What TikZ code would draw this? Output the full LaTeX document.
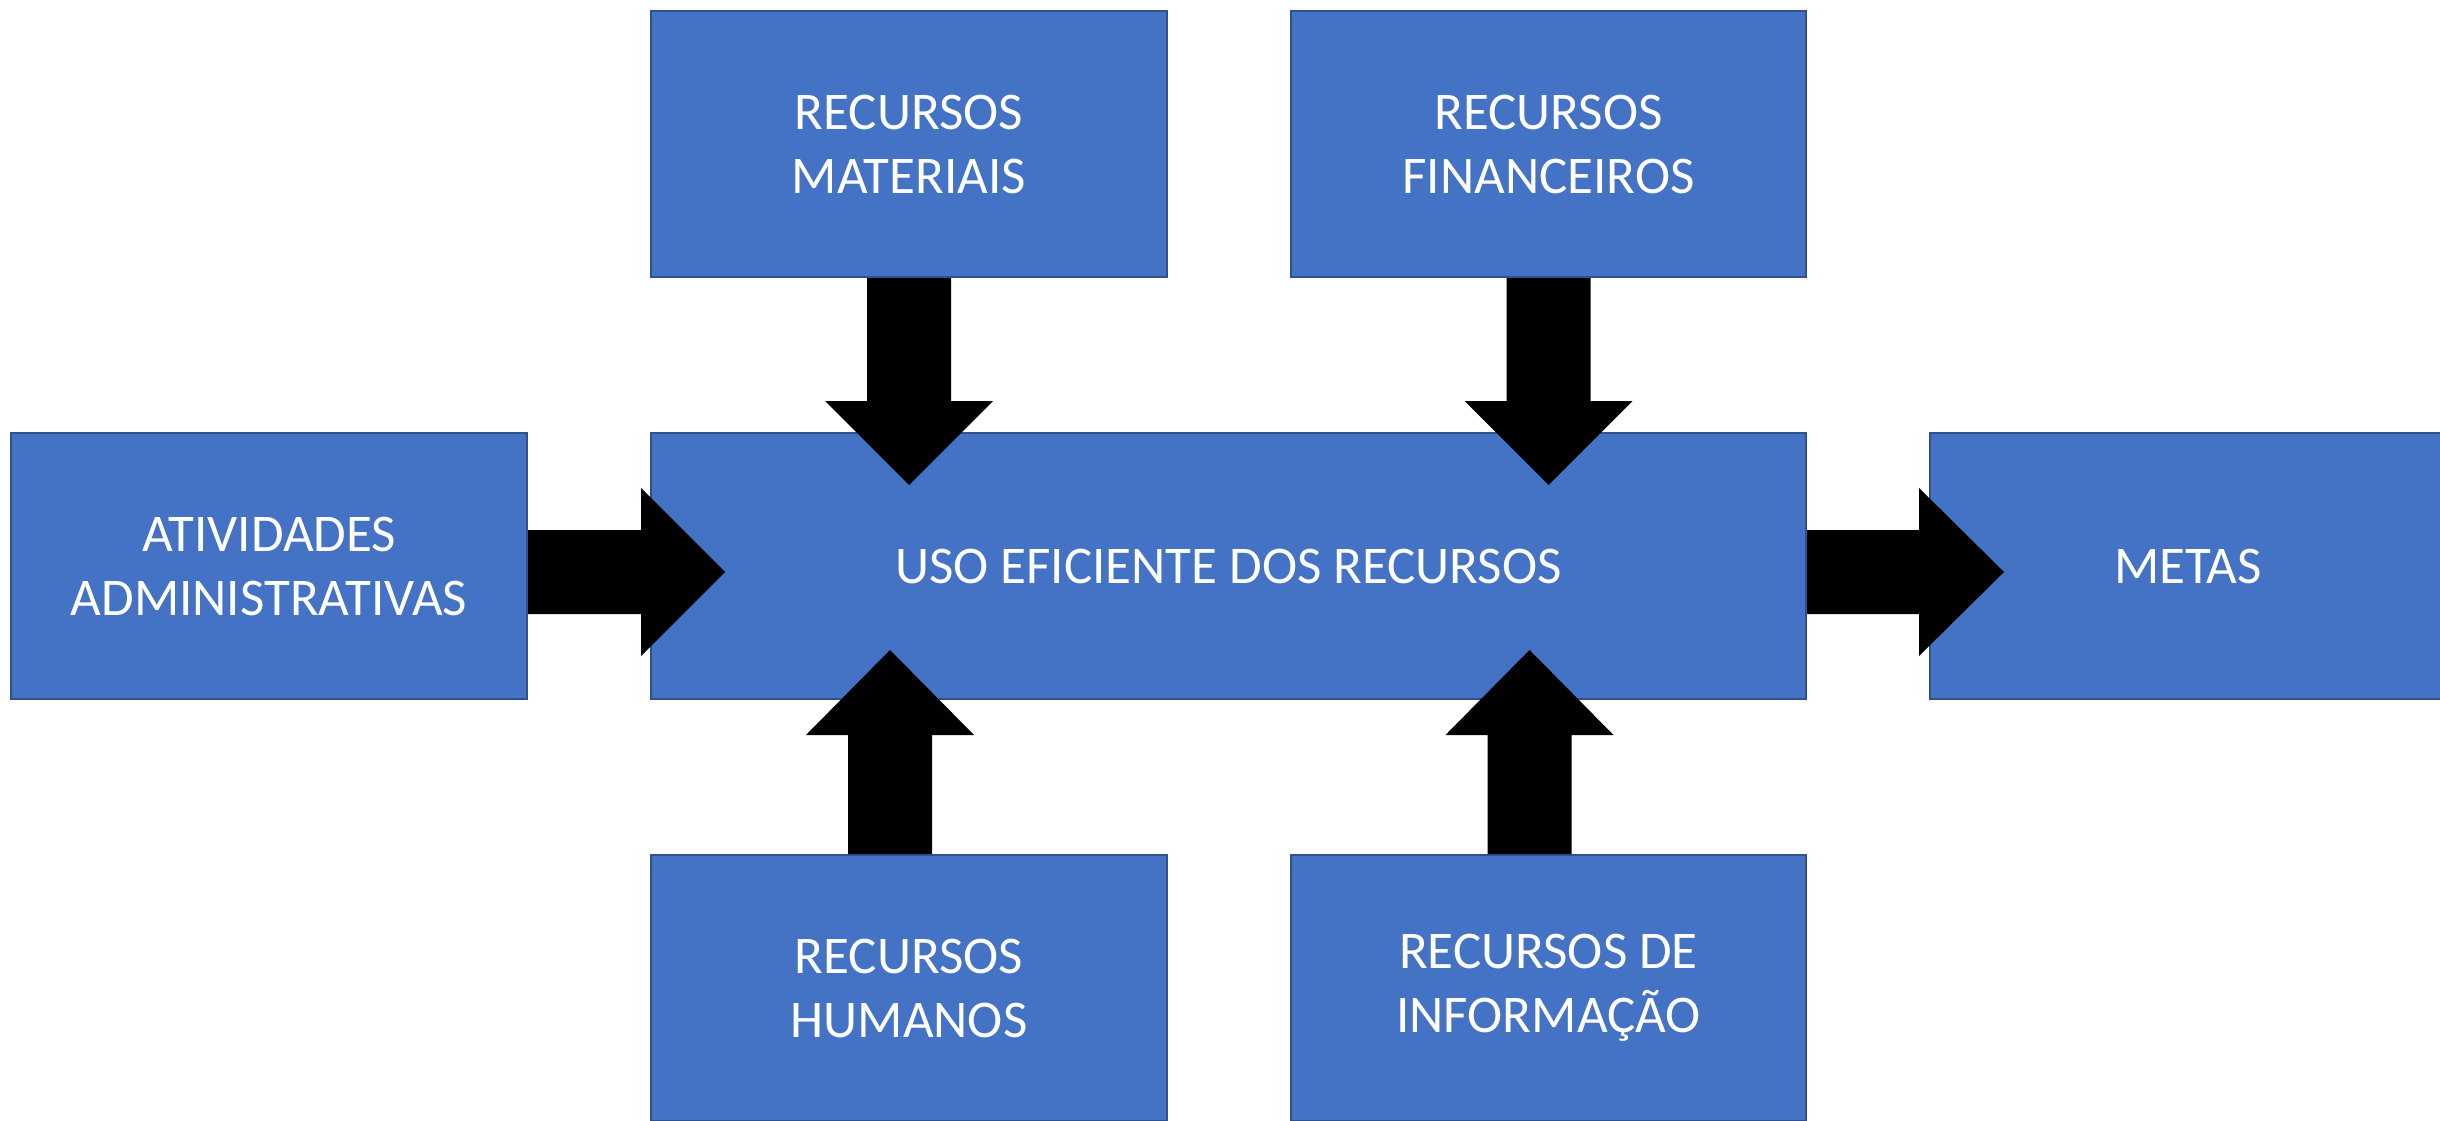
\documentclass[tikz,border=0pt]{standalone}
\usepackage{fontspec}
\setmainfont{Carlito}
\usetikzlibrary{calc}
\definecolor{boxblue}{HTML}{4472C4}
\definecolor{boxedge}{HTML}{2F528F}
\begin{document}
\begin{tikzpicture}[x=1pt,y=-1pt,
  blockbox/.style={rectangle, fill=boxblue, draw=boxedge, line width=2pt,
    text=white, align=center, inner sep=0pt,
    minimum height=266pt, font=\fontsize{53}{64}\selectfont},
  blockarrow/.style={fill=black, draw=none}]
\useasboundingbox (0,0) rectangle (2440,1121);
\begin{scope}
\clip (0,0) rectangle (2440,1121);
\node[blockbox, minimum width=516pt] (mat) at (909,144) {RECURSOS\\MATERIAIS};
\node[blockbox, minimum width=515pt] (fin) at (1548.5,144) {RECURSOS\\FINANCEIROS};
\node[blockbox, minimum width=516pt] (ati) at (269,566) {ATIVIDADES\\ADMINISTRATIVAS};
\node[blockbox, minimum width=1155pt] (uso) at (1228.5,566) {USO EFICIENTE DOS RECURSOS};
\node[blockbox, minimum width=516pt] (met) at (2188,566) {METAS};
\node[blockbox, minimum width=516pt] (hum) at (909,988) {RECURSOS\\HUMANOS};
\node[blockbox, minimum width=515pt] (inf) at (1548.5,988) {RECURSOS DE\\INFORMAÇÃO};

% down arrows into the central box
\fill[blockarrow] ($(mat.south)+(-42,0)$) -- ++(0,123) -- ++(-42,0) -- ($(mat.south)+(0,207)$)
  -- ++(84,-84) -- ++(-42,0) -- ($(mat.south)+(42,0)$) -- cycle;
\fill[blockarrow] ($(fin.south)+(-42,0)$) -- ++(0,123) -- ++(-42,0) -- ($(fin.south)+(0,207)$)
  -- ++(84,-84) -- ++(-42,0) -- ($(fin.south)+(42,0)$) -- cycle;
% up arrows into the central box
\fill[blockarrow] ($(hum.north)+(-61,0)$) -- ++(0,-119) -- ++(-42,0) -- ($(hum.north)+(-19,-204)$)
  -- ++(84,85) -- ++(-42,0) -- ($(hum.north)+(23,0)$) -- cycle;
\fill[blockarrow] ($(inf.north)+(-61,0)$) -- ++(0,-119) -- ++(-42,0) -- ($(inf.north)+(-19,-204)$)
  -- ++(84,85) -- ++(-42,0) -- ($(inf.north)+(23,0)$) -- cycle;
% right arrows
\fill[blockarrow] ($(ati.east)+(0,-36)$) -- ++(113,0) -- ++(0,-42) -- ($(ati.east)+(197,6)$)
  -- ++(-84,84) -- ++(0,-42) -- ($(ati.east)+(0,48)$) -- cycle;
\fill[blockarrow] ($(uso.east)+(0,-36)$) -- ++(112,0) -- ++(0,-42) -- ($(uso.east)+(197,6)$)
  -- ++(-85,84) -- ++(0,-42) -- ($(uso.east)+(0,48)$) -- cycle;
\end{scope}
\end{tikzpicture}
\end{document}
